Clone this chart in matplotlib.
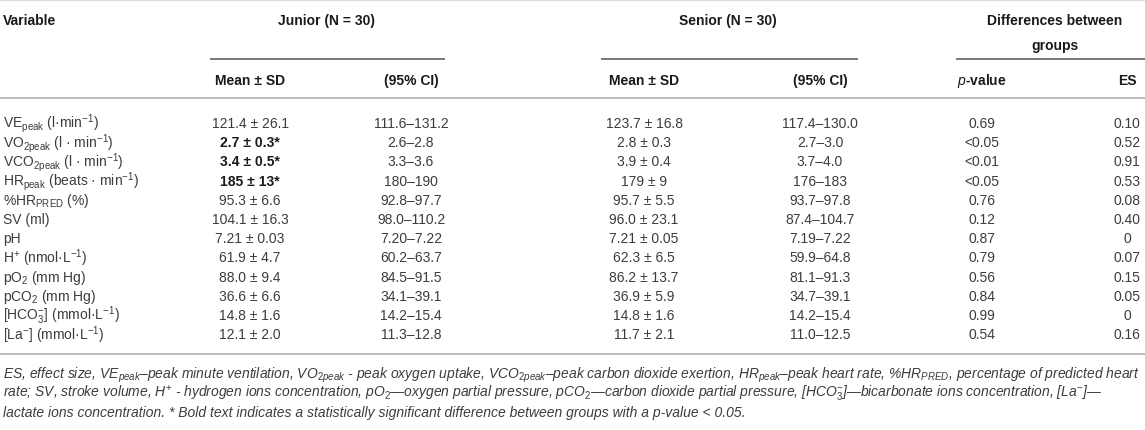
import matplotlib.pyplot as plt

plt.rcParams['font.family'] = ['Liberation Sans', 'DejaVu Sans']
plt.rcParams['mathtext.fontset'] = 'custom'
plt.rcParams['mathtext.rm'] = 'Liberation Sans'
plt.rcParams['mathtext.it'] = 'Liberation Sans:italic'
plt.rcParams['mathtext.bf'] = 'Liberation Sans:bold'

# --- table data ---
variables = [
    r"VE$_{\mathrm{peak}}$ (l·min$^{-1}$)",
    r"VO$_{\mathrm{2peak}}$ (l · min$^{-1}$)",
    r"VCO$_{\mathrm{2peak}}$ (l · min$^{-1}$)",
    r"HR$_{\mathrm{peak}}$ (beats · min$^{-1}$)",
    r"%HR$_{\mathrm{PRED}}$ (%)",
    "SV (ml)",
    "pH",
    r"H$^{+}$ (nmol·L$^{-1}$)",
    r"pO$_{2}$ (mm Hg)",
    r"pCO$_{2}$ (mm Hg)",
    r"[HCO$_{3}^{-}$] (mmol·L$^{-1}$)",
    r"[La$^{-}$] (mmol·L$^{-1}$)",
]
junior_msd = ["121.4 ± 26.1", "2.7 ± 0.3*", "3.4 ± 0.5*", "185 ± 13*", "95.3 ± 6.6",
              "104.1 ± 16.3", "7.21 ± 0.03", "61.9 ± 4.7", "88.0 ± 9.4", "36.6 ± 6.6",
              "14.8 ± 1.6", "12.1 ± 2.0"]
junior_bold = [False, True, True, True, False, False, False, False, False, False, False, False]
junior_ci = ["111.6–131.2", "2.6–2.8", "3.3–3.6", "180–190", "92.8–97.7", "98.0–110.2",
             "7.20–7.22", "60.2–63.7", "84.5–91.5", "34.1–39.1", "14.2–15.4", "11.3–12.8"]
senior_msd = ["123.7 ± 16.8", "2.8 ± 0.3", "3.9 ± 0.4", "179 ± 9", "95.7 ± 5.5",
              "96.0 ± 23.1", "7.21 ± 0.05", "62.3 ± 6.5", "86.2 ± 13.7", "36.9 ± 5.9",
              "14.8 ± 1.6", "11.7 ± 2.1"]
senior_ci = ["117.4–130.0", "2.7–3.0", "3.7–4.0", "176–183", "93.7–97.8", "87.4–104.7",
             "7.19–7.22", "59.9–64.8", "81.1–91.3", "34.7–39.1", "14.2–15.4", "11.0–12.5"]
p_values = ["0.69", "<0.05", "<0.01", "<0.05", "0.76", "0.12", "0.87", "0.79", "0.56",
            "0.84", "0.99", "0.54"]
effect_sizes = ["0.10", "0.52", "0.91", "0.53", "0.08", "0.40", "0", "0.07", "0.15",
                "0.05", "0", "0.16"]

footnote = [
    r"ES, effect size, VE$_{peak}$–peak minute ventilation, VO$_{2peak}$ - peak oxygen uptake, "
    r"VCO$_{2peak}$–peak carbon dioxide exertion, HR$_{peak}$–peak heart rate, %HR$_{PRED}$, "
    r"percentage of predicted heart",
    r"rate; SV, stroke volume, H$^{+}$ - hydrogen ions concentration, pO$_{2}$—oxygen partial pressure, "
    r"pCO$_{2}$—carbon dioxide partial pressure, [HCO$_{3}^{-}$]—bicarbonate ions concentration, [La$^{-}$]—",
    "lactate ions concentration. * Bold text indicates a statistically significant difference "
    "between groups with a p-value < 0.05.",
]

# --- layout (pixels) ---
W, H = 1145, 431
col_var = 3
col_jm, col_jci = 250, 411
col_sm, col_sci = 644, 820
col_p, col_es = 982, 1127
row_y0, row_step = 124, 19.2
fs = 10
body_c = "#3c3c3c"
head_c = "#1a1a1a"

fig = plt.figure(figsize=(W / 100, H / 100), dpi=100)
ax = fig.add_axes([0, 0, 1, 1])
ax.set_xlim(0, W)
ax.set_ylim(H, 0)
ax.axis("off")

# header
hy1, hy_groups, hy_line, hy2, hy_rule = 21, 46, 60, 81, 99
ax.text(col_var, hy1, "Variable", fontsize=fs, fontweight="bold", color=head_c, va="center")
ax.text(327, hy1, "Junior (N = 30)", fontsize=fs, fontweight="bold", color=head_c, ha="center", va="center")
ax.text(728, hy1, "Senior (N = 30)", fontsize=fs, fontweight="bold", color=head_c, ha="center", va="center")
ax.text(1055, hy1, "Differences between", fontsize=fs, fontweight="bold", color=head_c, ha="center", va="center")
ax.text(1055, hy_groups, "groups", fontsize=fs, fontweight="bold", color=head_c, ha="center", va="center")

for x0, x1 in [(210, 445), (601, 858), (956, 1145)]:
    ax.plot([x0, x1], [hy_line, hy_line], color="#555555", lw=1.1, solid_capstyle="butt")

for x, lab in [(col_jm, "Mean ± SD"), (col_jci, "(95% CI)"), (col_sm, "Mean ± SD"),
               (col_sci, "(95% CI)"), (col_es, "ES")]:
    ax.text(x, hy2, lab, fontsize=fs, fontweight="bold", color=head_c, ha="center", va="center")
ax.text(col_p, hy2, r"$\mathbf{\mathit{p}}$-value", fontsize=fs, fontweight="bold", color=head_c,
        ha="center", va="center")

ax.plot([0, W], [0.5, 0.5], color="#dddddd", lw=1)
ax.plot([0, W], [hy_rule, hy_rule], color="#aaaaaa", lw=1.1)

# body
for i, var in enumerate(variables):
    y = row_y0 + i * row_step
    ax.text(col_var, y, var, fontsize=fs, color=body_c, va="center")
    ax.text(col_jm, y, junior_msd[i], fontsize=fs, color=head_c if junior_bold[i] else body_c,
            fontweight="bold" if junior_bold[i] else "normal", ha="center", va="center")
    ax.text(col_jci, y, junior_ci[i], fontsize=fs, color=body_c, ha="center", va="center")
    ax.text(col_sm, y, senior_msd[i], fontsize=fs, color=body_c, ha="center", va="center")
    ax.text(col_sci, y, senior_ci[i], fontsize=fs, color=body_c, ha="center", va="center")
    ax.text(col_p, y, p_values[i], fontsize=fs, color=body_c, ha="center", va="center")
    ax.text(col_es, y, effect_sizes[i], fontsize=fs, color=body_c, ha="center", va="center")

bottom = row_y0 + (len(variables) - 1) * row_step + 20
ax.plot([0, W], [bottom, bottom], color="#aaaaaa", lw=1.1)

# footnote
for j, line in enumerate(footnote):
    ax.text(col_var, bottom + 20 + j * 19, line, fontsize=fs, fontstyle="italic",
            color=body_c, va="center")

fig.savefig("out.png", dpi=100)
